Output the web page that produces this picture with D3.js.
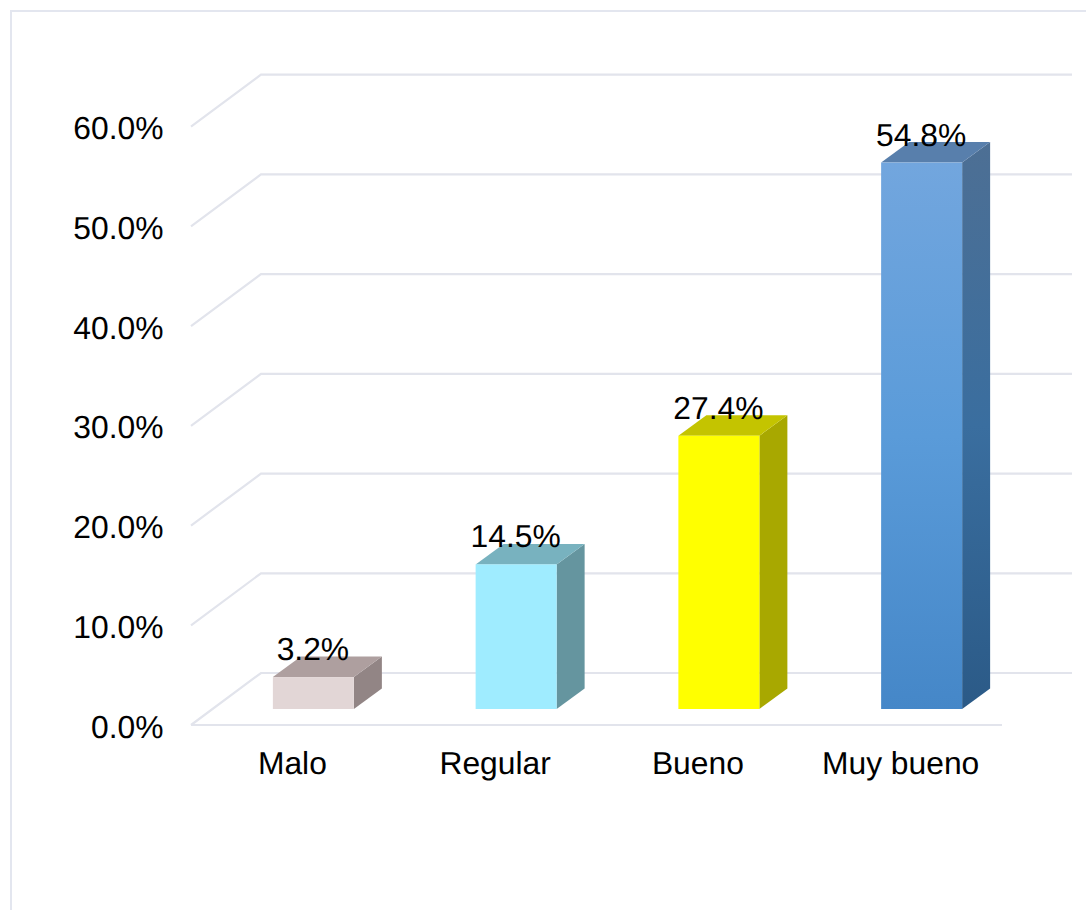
<!DOCTYPE html>
<html>
<head>
<meta charset="utf-8">
<script src="https://cdn.jsdelivr.net/npm/d3@7"></script>
<style>
html,body{margin:0;padding:0;background:#fff;overflow:hidden}
text{font-family:"Liberation Sans",Arial,sans-serif;fill:#000;text-rendering:geometricPrecision}
</style>
</head>
<body>
<svg id="chart" width="1086" height="910"></svg>
<script>
const categories = ["Malo", "Regular", "Bueno", "Muy bueno"];
const values = [3.2, 14.5, 27.4, 54.8];
const labels = ["3.2%", "14.5%", "27.4%", "54.8%"];
const yTicks = [0, 10, 20, 30, 40, 50, 60];
const frontColors = ["#e2d6d6", "#9fecff", "#ffff00", null];
const topColors = ["#ae9f9f", "#78b2bf", "#c4c400", "#587fac"];
const sideColors = ["#928585", "#65959f", "#a8a800", null];

const W = 1086, H = 910;
const svg = d3.select("#chart");
const fontSize = 31.8;
const gridColor = "#e2e4ec";

// Plot geometry
const floorLeft = 191, floorRight = 1002, floorY = 725;
const depthX = 70, depthY = 52;        // chart-box depth
const barDepthX = 28, barDepthY = 20.5;  // bar depth
const barLift = 16, barShift = 21;     // bar position inside the depth

const x = d3.scaleBand().domain(categories).range([floorLeft, floorRight]).paddingInner(0).paddingOuter(0);
const barW = 81;
const y = d3.scaleLinear().domain([0, 60]).range([floorY, floorY - 598.3]); // front plane
const h = v => y(0) - y(v);

// Gradients for the blue bar
const defs = svg.append("defs");
const g1 = defs.append("linearGradient").attr("id", "blueFront").attr("x1", 0).attr("y1", 0).attr("x2", 0).attr("y2", 1);
[[0, "#72a6de"], [0.5, "#5a9bd9"], [1, "#4587c8"]].forEach(s => g1.append("stop").attr("offset", s[0]).attr("stop-color", s[1]));
const g2 = defs.append("linearGradient").attr("id", "blueSide").attr("x1", 0).attr("y1", 0).attr("x2", 0).attr("y2", 1);
[[0, "#4d6f94"], [0.5, "#3a6e9f"], [1, "#2b5a87"]].forEach(s => g2.append("stop").attr("offset", s[0]).attr("stop-color", s[1]));

// Outer frame
svg.append("path").attr("d", `M${W},11H11V${H}`).attr("fill", "none").attr("stroke", "#e3e6ef").attr("stroke-width", 2);

// Gridlines: side wall and back wall
const grid = svg.append("g").attr("fill", "none").attr("stroke", gridColor).attr("stroke-width", 2.2);
grid.selectAll("path").data(yTicks).join("path")
  .attr("d", d => `M${floorLeft},${y(d)}L${floorLeft + depthX},${y(d) - depthY}H${floorRight + depthX}`);
grid.append("line").attr("x1", floorLeft).attr("x2", floorRight).attr("y1", y(0)).attr("y2", y(0));

// Axes
const yAxis = svg.append("g").attr("transform", `translate(${floorLeft - 27.5},0)`)
  .call(d3.axisLeft(y).tickValues(yTicks).tickSize(0).tickPadding(0).tickFormat(d => d.toFixed(1) + "%"));
yAxis.select(".domain").remove();
yAxis.selectAll("text").attr("font-size", fontSize).attr("font-family", '"Liberation Sans"').attr("dy", "0.38em").attr("fill", "#000");

const xAxis = svg.append("g").attr("transform", `translate(0,${y(0) + 14.5})`)
  .call(d3.axisBottom(x).tickSize(0).tickPadding(0));
xAxis.select(".domain").remove();
xAxis.selectAll("text").attr("font-size", fontSize).attr("font-family", '"Liberation Sans"').attr("dy", "1.09em").attr("fill", "#000");

// Bars
const bars = svg.append("g").selectAll("g").data(categories).join("g");
const left = c => x(c) + x.bandwidth() / 2 + barShift - barW / 2;
const base = y(0) - barLift;

bars.append("path") // side
  .attr("fill", (c, i) => sideColors[i] || "url(#blueSide)")
  .attr("d", (c, i) => {
    const r = left(c) + barW, t = base - h(values[i]);
    return `M${r},${t}l${barDepthX},${-barDepthY}V${base - barDepthY}L${r},${base}Z`;
  });
bars.append("path") // top
  .attr("fill", (c, i) => topColors[i])
  .attr("d", (c, i) => {
    const l = left(c), t = base - h(values[i]);
    return `M${l},${t}l${barDepthX},${-barDepthY}h${barW}l${-barDepthX},${barDepthY}Z`;
  });
bars.append("rect") // front
  .attr("x", c => left(c))
  .attr("y", (c, i) => base - h(values[i]))
  .attr("width", barW)
  .attr("height", (c, i) => h(values[i]))
  .attr("fill", (c, i) => frontColors[i] || "url(#blueFront)");

// Data labels
svg.append("g").selectAll("text").data(categories).join("text")
  .attr("x", c => left(c) + barW / 2 - 0.5)
  .attr("y", (c, i) => base - h(values[i]) - 17)
  .attr("text-anchor", "middle")
  .attr("font-size", fontSize)
  .text((c, i) => labels[i]);
</script>
</body>
</html>
